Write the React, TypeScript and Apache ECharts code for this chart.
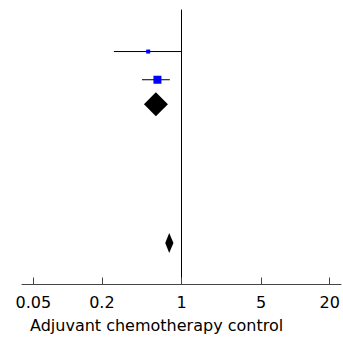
import React, { useEffect, useRef } from "react";
import * as echarts from "echarts";

// Study estimates (ratio scale) and row positions
const studyMid = [0.51, 0.615];
const studyLow = [0.255, 0.45];
const studyHigh = [1.0, 0.79];
const studyWeight = [4, 8];
const studyRow = [5.6, 9.4];

// Pooled estimates (diamonds)
const poolMid = [0.596, 0.78];
const poolLow = [0.468, 0.72];
const poolHigh = [0.76, 0.85];
const poolRow = [12.7, 31.4];
const poolHalfHeight = [12, 10];

const tickValues = [0.05, 0.2, 1, 5, 20];
const tickLabels = ["0.05", "0.2", "1", "5", "20"];
const axisTitle = "Adjuvant chemotherapy control";

const FONT = "DejaVu Sans";
const lg = (v: number) => Math.log10(v);

export default function App() {
  const ref = useRef<HTMLDivElement>(null);
  useEffect(() => {
    if (!ref.current) return;
    const chart = echarts.init(ref.current, null, { renderer: "svg" });
    const tickLog = tickValues.map(lg);
    const studyData = studyMid.map((m, i) => [lg(m), lg(studyLow[i]), lg(studyHigh[i]), studyRow[i], studyWeight[i]]);
    const poolData = poolMid.map((m, i) => [lg(m), lg(poolLow[i]), lg(poolHigh[i]), poolRow[i], poolHalfHeight[i]]);
    chart.setOption({
      animation: false,
      title: {
        text: axisTitle,
        left: 30,
        top: 317,
        padding: 0,
        textStyle: { fontFamily: FONT, fontSize: 16, fontWeight: "normal", color: "#000" },
      },
      grid: { left: 22, right: 2, top: 10, bottom: 60.5 },
      xAxis: {
        type: "value",
        min: -1.4,
        max: 1.4,
        axisLine: { show: true, onZero: false, lineStyle: { color: "#444", width: 1 } },
        axisTick: { show: true, inside: true, length: 7, customValues: tickLog, lineStyle: { color: "#444" } },
        axisLabel: {
          show: true,
          customValues: tickLog,
          margin: 10,
          fontFamily: FONT,
          fontSize: 16,
          color: "#000",
          formatter: (v: number) => {
            let best = 0;
            tickLog.forEach((t, i) => {
              if (Math.abs(t - v) < Math.abs(tickLog[best] - v)) best = i;
            });
            return tickLabels[best];
          },
        },
        splitLine: { show: false },
      },
      yAxis: {
        type: "value",
        min: 0,
        max: 37,
        inverse: true,
        axisLine: { show: true, onZero: true, lineStyle: { color: "#000", width: 1 } },
        axisTick: { show: false },
        axisLabel: { show: false },
        splitLine: { show: false },
      },
      series: [
        {
          type: "custom",
          data: studyData,
          renderItem: (params: any, api: any) => {
            const mid = api.value(0), lo = api.value(1), hi = api.value(2), row = api.value(3), size = api.value(4);
            const pL = api.coord([lo, row]);
            const pH = api.coord([hi, row]);
            const pM = api.coord([mid, row]);
            return {
              type: "group",
              children: [
                { type: "line", shape: { x1: pL[0], y1: pL[1], x2: pH[0], y2: pH[1] }, style: { stroke: "#000", lineWidth: 1 } },
                { type: "rect", shape: { x: pM[0] - size / 2, y: pM[1] - size / 2, width: size, height: size }, style: { fill: "#0000ff" } },
              ],
            };
          },
        },
        {
          type: "custom",
          data: poolData,
          renderItem: (params: any, api: any) => {
            const mid = api.value(0), lo = api.value(1), hi = api.value(2), row = api.value(3), hh = api.value(4);
            const pL = api.coord([lo, row]);
            const pH = api.coord([hi, row]);
            const pM = api.coord([mid, row]);
            return {
              type: "polygon",
              shape: { points: [[pL[0], pL[1]], [pM[0], pM[1] - hh], [pH[0], pH[1]], [pM[0], pM[1] + hh]] },
              style: { fill: "#000" },
            };
          },
        },
      ],
    });
    return () => chart.dispose();
  }, []);
  return <div ref={ref} style={{ width: 343, height: 345, position: "absolute", left: 0, top: 0 }} />;
}
